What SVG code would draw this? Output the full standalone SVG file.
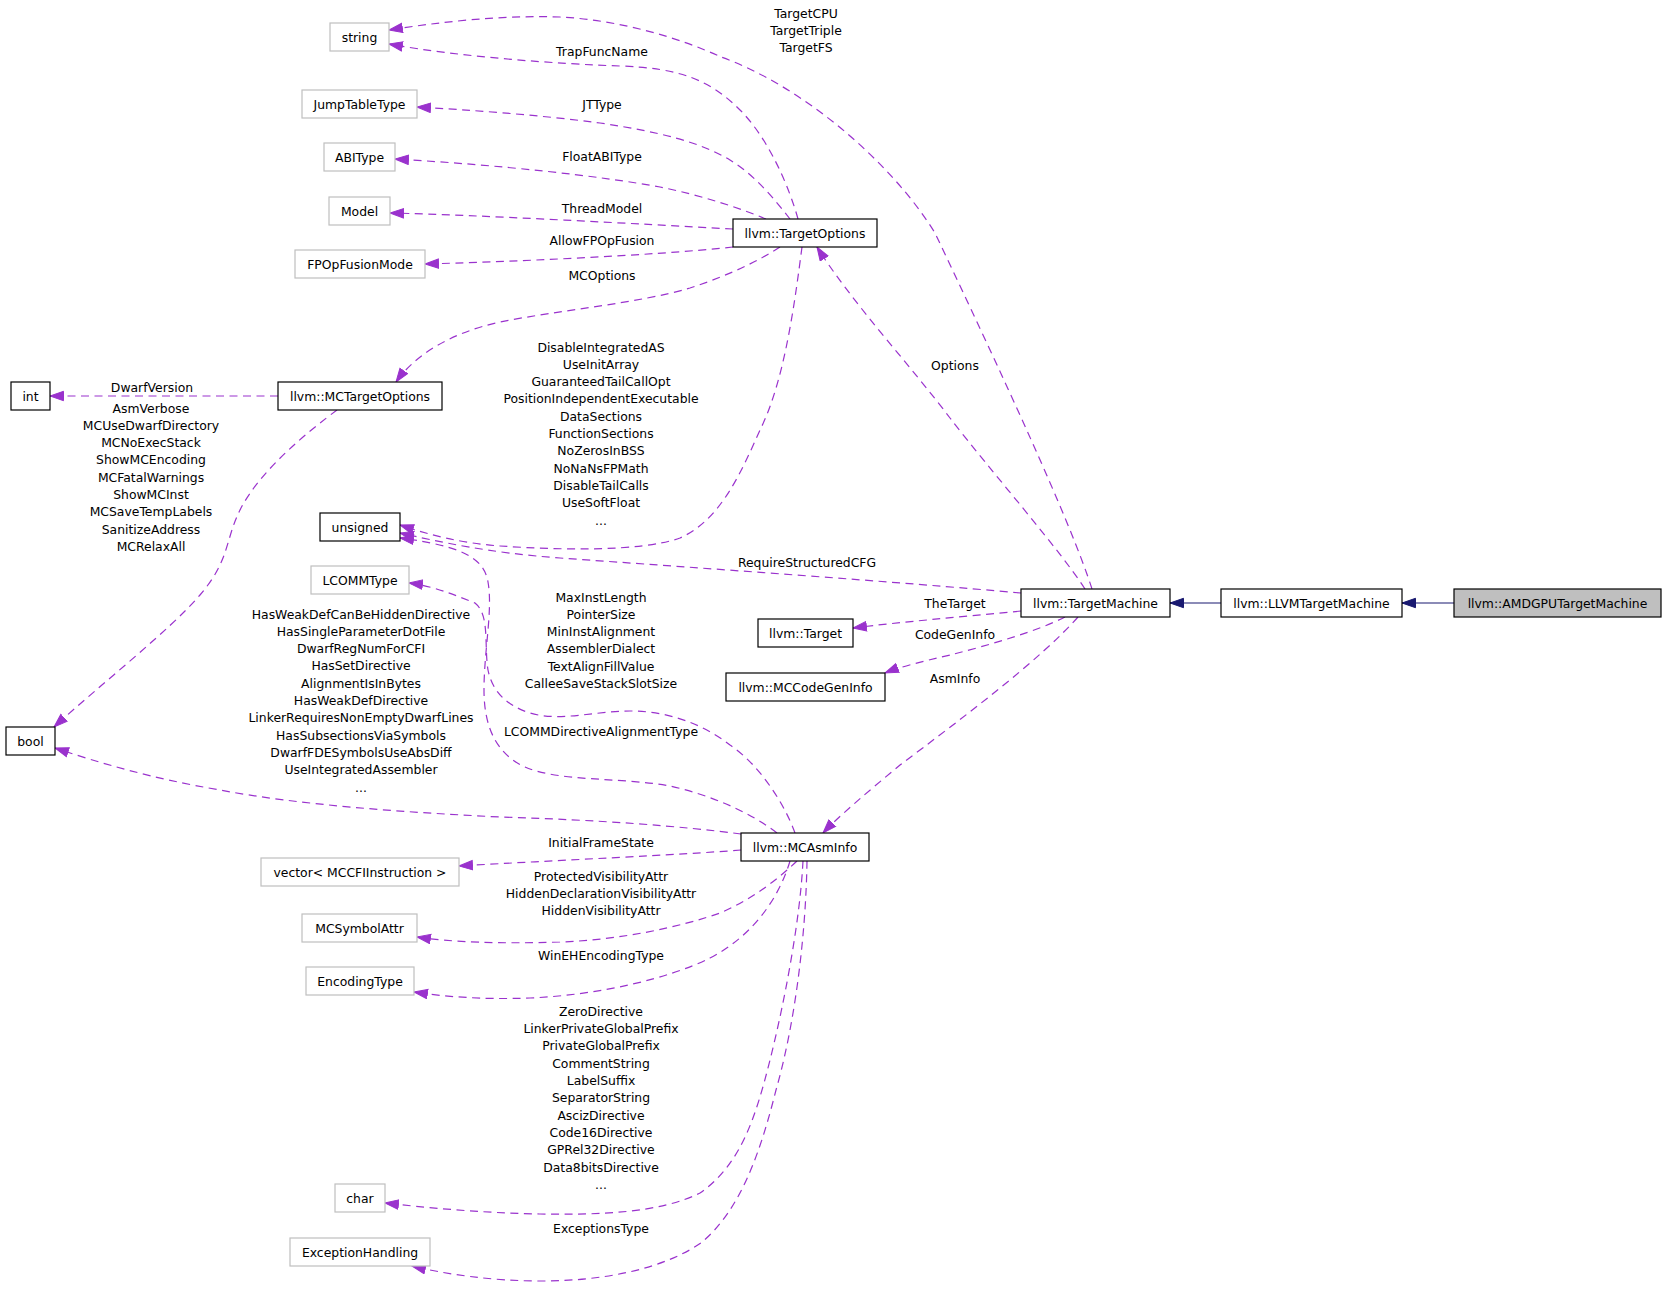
<svg xmlns="http://www.w3.org/2000/svg" width="1667" height="1291" viewBox="0 0 1667 1291">
<defs>
<style>
text{font-family:"DejaVu Sans","Liberation Sans",sans-serif;font-size:12.4px;fill:#000;text-anchor:middle}
.n rect{fill:#fff;stroke:#000;stroke-width:1.2}
.g rect{fill:#fff;stroke:#bfbfbf;stroke-width:1.2}
.cur rect{fill:#bfbfbf;stroke:#000;stroke-width:1.2}
.e{fill:none;stroke:#9a32cd;stroke-width:1.2;stroke-dasharray:8,5.5}
.i{fill:none;stroke:#191970;stroke-width:1.2}
</style>
<marker id="ap" markerUnits="userSpaceOnUse" markerWidth="16" markerHeight="12" refX="14" refY="5.5" orient="auto"><path d="M0.5,0.8 L14,5.5 L0.5,10.2 z" fill="#9a32cd" stroke="#9a32cd" stroke-width="1"/></marker>
<marker id="ab" markerUnits="userSpaceOnUse" markerWidth="16" markerHeight="12" refX="14" refY="5.5" orient="auto"><path d="M0.5,0.8 L14,5.5 L0.5,10.2 z" fill="#191970" stroke="#191970" stroke-width="1"/></marker>
</defs>
<rect width="1667" height="1291" fill="#fff"/>
<g id="connectors">
<path class="e" marker-end="url(#ap)" d="M1092,589 C1070,520 1000,370 935,233 C890,160 800,85 721,57 C680,38 620,20 560,17 C500,15 440,22 389,30"/>
<path class="e" marker-end="url(#ap)" d="M798,219 C790,190 770,140 740,110 C710,80 680,68 620,66 C560,64 460,57 389,44"/>
<path class="e" marker-end="url(#ap)" d="M790,219 C775,200 755,175 730,160 C700,142 660,132 600,123 C540,115 470,110 417,107"/>
<path class="e" marker-end="url(#ap)" d="M766,219 C740,208 700,195 660,187 C600,176 500,165 395,159"/>
<path class="e" marker-end="url(#ap)" d="M733,229 C640,224 480,215 390,213"/>
<path class="e" marker-end="url(#ap)" d="M733,247 C650,256 500,262 425,264"/>
<path class="e" marker-end="url(#ap)" d="M780,247 C760,260 730,275 690,288 C640,303 560,310 500,322 C450,333 415,355 396,382"/>
<path class="e" marker-end="url(#ap)" d="M278,396 L50,396"/>
<path class="e" marker-end="url(#ap)" d="M337,410 C310,430 260,470 240,510 C225,540 230,560 200,595 C170,630 100,685 54,727"/>
<path class="e" marker-end="url(#ap)" d="M802,247 C795,300 785,380 760,430 C740,475 720,520 680,538 C640,552 560,550 500,546 C460,543 430,535 400,525"/>
<path class="e" marker-end="url(#ap)" d="M1021,593 C900,582 700,568 560,558 C490,553 440,542 400,533"/>
<path class="e" marker-end="url(#ap)" d="M777,833 C750,812 710,795 670,786 C620,777 560,782 525,767 C492,752 484,720 484,690 C484,650 493,610 488,582 C484,558 462,546 400,538"/>
<path class="e" marker-end="url(#ap)" d="M795,833 C785,805 760,765 730,745 C700,722 665,711 630,711 C595,711 560,722 530,713 C505,705 492,690 488,670 C484,645 490,615 475,603 C462,598 435,586 409,583"/>
<path class="e" marker-end="url(#ap)" d="M741,834 C680,826 600,820 500,817 C400,812 300,805 220,790 C150,778 100,763 55,748"/>
<path class="e" marker-end="url(#ap)" d="M741,850 C680,855 560,860 459,866"/>
<path class="e" marker-end="url(#ap)" d="M797,861 C780,877 755,898 720,913 C680,927 620,940 560,942 C500,944 450,942 417,937"/>
<path class="e" marker-end="url(#ap)" d="M790,861 C780,895 755,935 710,958 C670,978 600,995 530,998 C480,1000 440,996 414,992"/>
<path class="e" marker-end="url(#ap)" d="M803,861 C800,920 785,1000 770,1060 C755,1120 740,1165 700,1193 C660,1213 600,1215 540,1214 C480,1213 420,1207 385,1203"/>
<path class="e" marker-end="url(#ap)" d="M807,861 C806,930 796,1020 776,1090 C761,1150 741,1210 701,1243 C661,1270 601,1281 541,1281 C491,1281 445,1274 412,1266"/>
<path class="e" marker-end="url(#ap)" d="M1078,617 C1040,660 960,720 900,765 C870,790 840,815 823,833"/>
<path class="e" marker-end="url(#ap)" d="M1021,611 C960,617 900,622 853,628"/>
<path class="e" marker-end="url(#ap)" d="M1065,617 C1040,630 990,645 950,655 C920,662 900,667 885,673"/>
<path class="e" marker-end="url(#ap)" d="M1085,589 C1060,550 990,470 950,418 C910,365 850,300 817,247"/>
<path class="i" marker-end="url(#ab)" d="M1221,603 L1170,603"/>
<path class="i" marker-end="url(#ab)" d="M1454,603 L1402,603"/>
</g>
<g id="edge-labels">
<text x="806" y="17.7">TargetCPU</text>
<text x="806" y="35">TargetTriple</text>
<text x="806" y="52.3">TargetFS</text>
<text x="602" y="56">TrapFuncName</text>
<text x="602" y="108.5">JTType</text>
<text x="602" y="161">FloatABIType</text>
<text x="602" y="212.5">ThreadModel</text>
<text x="602" y="245">AllowFPOpFusion</text>
<text x="602" y="280">MCOptions</text>
<text x="152" y="391.5">DwarfVersion</text>
<text x="151" y="412.5">AsmVerbose</text>
<text x="151" y="429.8">MCUseDwarfDirectory</text>
<text x="151" y="447.1">MCNoExecStack</text>
<text x="151" y="464.4">ShowMCEncoding</text>
<text x="151" y="481.7">MCFatalWarnings</text>
<text x="151" y="499">ShowMCInst</text>
<text x="151" y="516.3">MCSaveTempLabels</text>
<text x="151" y="533.6">SanitizeAddress</text>
<text x="151" y="550.9">MCRelaxAll</text>
<text x="601" y="351.5">DisableIntegratedAS</text>
<text x="601" y="368.8">UseInitArray</text>
<text x="601" y="386.1">GuaranteedTailCallOpt</text>
<text x="601" y="403.4">PositionIndependentExecutable</text>
<text x="601" y="420.7">DataSections</text>
<text x="601" y="438">FunctionSections</text>
<text x="601" y="455.3">NoZerosInBSS</text>
<text x="601" y="472.6">NoNaNsFPMath</text>
<text x="601" y="489.9">DisableTailCalls</text>
<text x="601" y="507.2">UseSoftFloat</text>
<text x="601" y="524.5">...</text>
<text x="955" y="369.5">Options</text>
<text x="807" y="566.5">RequireStructuredCFG</text>
<text x="955" y="607.5">TheTarget</text>
<text x="955" y="638.5">CodeGenInfo</text>
<text x="955" y="682.5">AsmInfo</text>
<text x="601" y="601.5">MaxInstLength</text>
<text x="601" y="618.8">PointerSize</text>
<text x="601" y="636.1">MinInstAlignment</text>
<text x="601" y="653.4">AssemblerDialect</text>
<text x="601" y="670.7">TextAlignFillValue</text>
<text x="601" y="688">CalleeSaveStackSlotSize</text>
<text x="601" y="736">LCOMMDirectiveAlignmentType</text>
<text x="361" y="618.5">HasWeakDefCanBeHiddenDirective</text>
<text x="361" y="635.8">HasSingleParameterDotFile</text>
<text x="361" y="653.1">DwarfRegNumForCFI</text>
<text x="361" y="670.4">HasSetDirective</text>
<text x="361" y="687.7">AlignmentIsInBytes</text>
<text x="361" y="705">HasWeakDefDirective</text>
<text x="361" y="722.3">LinkerRequiresNonEmptyDwarfLines</text>
<text x="361" y="739.6">HasSubsectionsViaSymbols</text>
<text x="361" y="756.9">DwarfFDESymbolsUseAbsDiff</text>
<text x="361" y="774.2">UseIntegratedAssembler</text>
<text x="361" y="791.5">...</text>
<text x="601" y="846.5">InitialFrameState</text>
<text x="601" y="880.5">ProtectedVisibilityAttr</text>
<text x="601" y="897.8">HiddenDeclarationVisibilityAttr</text>
<text x="601" y="915.1">HiddenVisibilityAttr</text>
<text x="601" y="960">WinEHEncodingType</text>
<text x="601" y="1015.8">ZeroDirective</text>
<text x="601" y="1033.1">LinkerPrivateGlobalPrefix</text>
<text x="601" y="1050.4">PrivateGlobalPrefix</text>
<text x="601" y="1067.7">CommentString</text>
<text x="601" y="1085">LabelSuffix</text>
<text x="601" y="1102.3">SeparatorString</text>
<text x="601" y="1119.6">AscizDirective</text>
<text x="601" y="1136.9">Code16Directive</text>
<text x="601" y="1154.2">GPRel32Directive</text>
<text x="601" y="1171.5">Data8bitsDirective</text>
<text x="601" y="1188.8">...</text>
<text x="601" y="1233">ExceptionsType</text>
</g>
<g id="node-string" class="g"><rect x="330" y="23" width="59" height="28"/><text x="359.5" y="41.5">string</text></g>
<g id="node-JumpTableType" class="g"><rect x="302" y="90" width="115" height="28"/><text x="359.5" y="108.5">JumpTableType</text></g>
<g id="node-ABIType" class="g"><rect x="324" y="143" width="71" height="28"/><text x="359.5" y="161.5">ABIType</text></g>
<g id="node-Model" class="g"><rect x="329" y="197" width="61" height="28"/><text x="359.5" y="215.5">Model</text></g>
<g id="node-FPOpFusionMode" class="g"><rect x="295" y="250" width="130" height="28"/><text x="360" y="268.5">FPOpFusionMode</text></g>
<g id="node-TargetOptions" class="n"><rect x="733" y="219" width="144" height="28"/><text x="805" y="237.5">llvm::TargetOptions</text></g>
<g id="node-int" class="n"><rect x="11" y="382" width="39" height="28"/><text x="30.5" y="400.5">int</text></g>
<g id="node-MCTargetOptions" class="n"><rect x="278" y="382" width="164" height="28"/><text x="360" y="400.5">llvm::MCTargetOptions</text></g>
<g id="node-unsigned" class="n"><rect x="320" y="513" width="80" height="28"/><text x="360" y="531.5">unsigned</text></g>
<g id="node-LCOMMType" class="g"><rect x="311" y="566" width="98" height="28"/><text x="360" y="584.5">LCOMMType</text></g>
<g id="node-bool" class="n"><rect x="6" y="727" width="49" height="28"/><text x="30.5" y="745.5">bool</text></g>
<g id="node-TargetMachine" class="n"><rect x="1021" y="589" width="149" height="28"/><text x="1095.5" y="607.5">llvm::TargetMachine</text></g>
<g id="node-LLVMTargetMachine" class="n"><rect x="1221" y="589" width="181" height="28"/><text x="1311.5" y="607.5">llvm::LLVMTargetMachine</text></g>
<g id="node-AMDGPUTargetMachine" class="cur"><rect x="1454" y="589" width="207" height="28"/><text x="1557.5" y="607.5">llvm::AMDGPUTargetMachine</text></g>
<g id="node-Target" class="n"><rect x="758" y="619" width="95" height="28"/><text x="805.5" y="637.5">llvm::Target</text></g>
<g id="node-MCCodeGenInfo" class="n"><rect x="726" y="673" width="159" height="28"/><text x="805.5" y="691.5">llvm::MCCodeGenInfo</text></g>
<g id="node-MCAsmInfo" class="n"><rect x="741" y="833" width="128" height="28"/><text x="805" y="851.5">llvm::MCAsmInfo</text></g>
<g id="node-vector" class="g"><rect x="261" y="858" width="198" height="28"/><text x="360" y="876.5">vector&lt; MCCFIInstruction &gt;</text></g>
<g id="node-MCSymbolAttr" class="g"><rect x="302" y="914" width="115" height="28"/><text x="359.5" y="932.5">MCSymbolAttr</text></g>
<g id="node-EncodingType" class="g"><rect x="306" y="967" width="108" height="28"/><text x="360" y="985.5">EncodingType</text></g>
<g id="node-char" class="g"><rect x="335" y="1184" width="50" height="28"/><text x="360" y="1202.5">char</text></g>
<g id="node-ExceptionHandling" class="g"><rect x="290" y="1238" width="140" height="28"/><text x="360" y="1256.5">ExceptionHandling</text></g>
</svg>
